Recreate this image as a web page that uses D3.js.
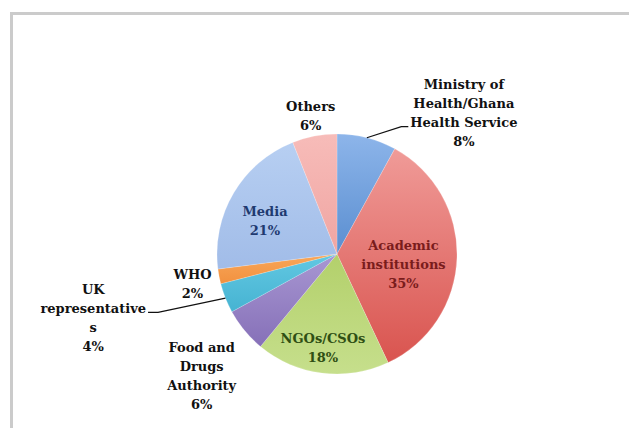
<!DOCTYPE html>
<html>
<head>
<meta charset="utf-8">
<script src="https://cdn.jsdelivr.net/npm/d3@7"></script>
<style>
  html, body { margin: 0; padding: 0; background: #ffffff; }
  svg { display: block; }
</style>
</head>
<body>
<svg id="chart" width="629" height="428"></svg>
<script>
// ---- data ----
const categories = ["Ministry of Health/Ghana Health Service", "Academic institutions", "NGOs/CSOs",
  "Food and Drugs Authority", "UK representatives", "WHO", "Media", "Others"];
const values = [8, 35, 18, 6, 4, 2, 21, 6];
const labelLines = [
  ["Ministry of", "Health/Ghana", "Health Service", "8%"],
  ["Academic", "institutions", "35%"],
  ["NGOs/CSOs", "18%"],
  ["Food and", "Drugs", "Authority", "6%"],
  ["UK", "representative", "s", "4%"],
  ["WHO", "2%"],
  ["Media", "21%"],
  ["Others", "6%"]
];

// ---- style ----
const gradTop = ["#8db5ea", "#f09b98", "#b3d06b", "#a897d2", "#62c8e2", "#f8a75a", "#b7cff2", "#f7bcb9"];
const gradBottom = ["#5a8ed0", "#d9544f", "#c6df8c", "#8670b8", "#46b3d2", "#f2913f", "#a1bce8", "#f0a5a2"];
const textColors = ["#111", "#7a1c1c", "#2f4f14", "#111", "#111", "#111", "#1f3a70", "#111"];

// label placement: distance factor of radius, angle nudge in degrees
const labelLayout = [
  {k: 1.58, da: 27.6, leader: true},
  {k: 0.56, da: 6.8},
  {k: 0.79, da: 1.3},
  {k: 1.52, da: -2.5},
  {k: 2.10, da: 6.9, leader: true},
  {k: 1.23, da: -1.0},
  {k: 0.66, da: -6},
  {k: 1.17, da: 0}
];

const W = 629, H = 428;
const cx = 337, cy = 254, R = 120;
const svg = d3.select("#chart");

// frame
svg.append("line").attr("x1", 10).attr("x2", W).attr("y1", 13.5).attr("y2", 13.5)
  .attr("stroke", "#cbcbcb").attr("stroke-width", 3);
svg.append("line").attr("x1", 11.5).attr("x2", 11.5).attr("y1", 12).attr("y2", H)
  .attr("stroke", "#cbcbcb").attr("stroke-width", 3);

const defs = svg.append("defs");
gradTop.forEach((c, i) => {
  const lg = defs.append("linearGradient").attr("id", "g" + i)
    .attr("x1", 0).attr("y1", 0).attr("x2", 0).attr("y2", 1);
  lg.append("stop").attr("offset", "0%").attr("stop-color", c);
  lg.append("stop").attr("offset", "100%").attr("stop-color", gradBottom[i]);
});

const pie = d3.pie().value(d => d).sort(null);
const arcs = pie(values);
const arc = d3.arc().innerRadius(0).outerRadius(R);

const g = svg.append("g").attr("transform", `translate(${cx},${cy})`);
g.selectAll("path.slice").data(arcs).join("path")
  .attr("class", "slice")
  .attr("d", arc)
  .attr("fill", (d, i) => `url(#g${i})`)
  .attr("stroke", "rgba(255,255,255,0.3)")
  .attr("stroke-width", 0.6);

const fontSize = 13;
const lineH = 19;

arcs.forEach((d, i) => {
  const mid = (d.startAngle + d.endAngle) / 2;
  const L = labelLayout[i];
  const ang = mid + L.da * Math.PI / 180;
  const lx = Math.sin(ang) * R * L.k;
  const ly = -Math.cos(ang) * R * L.k;
  const lines = labelLines[i];
  const t = g.append("text")
    .attr("text-anchor", "middle")
    .attr("font-family", "'DejaVu Serif', serif")
    .attr("font-weight", "bold")
    .attr("font-size", fontSize)
    .attr("fill", textColors[i]);
  lines.forEach((s, j) => {
    t.append("tspan").attr("x", lx)
      .attr("y", ly + (j - (lines.length - 1) / 2) * lineH)
      .attr("dy", "0.35em").text(s);
  });
  if (L.leader) {
    const sx = Math.sin(mid) * R, sy = -Math.cos(mid) * R;
    const tspans = t.selectAll("tspan").nodes();
    const idx = i === 0 ? 2 : 1;
    const bb = tspans[idx].getBBox();
    const tailY = ly + (idx - (lines.length - 1) / 2) * lineH + 4;
    const endX = sx > 0 ? bb.x - 2 : bb.x + bb.width + 2;
    const elbowX = sx > 0 ? endX - 7 : endX + 10;
    g.append("polyline")
      .attr("points", [[sx, sy], [elbowX, tailY], [endX, tailY]].map(p => p.join(",")).join(" "))
      .attr("fill", "none").attr("stroke", "#111").attr("stroke-width", 1.2);
  }
});
</script>
</body>
</html>
